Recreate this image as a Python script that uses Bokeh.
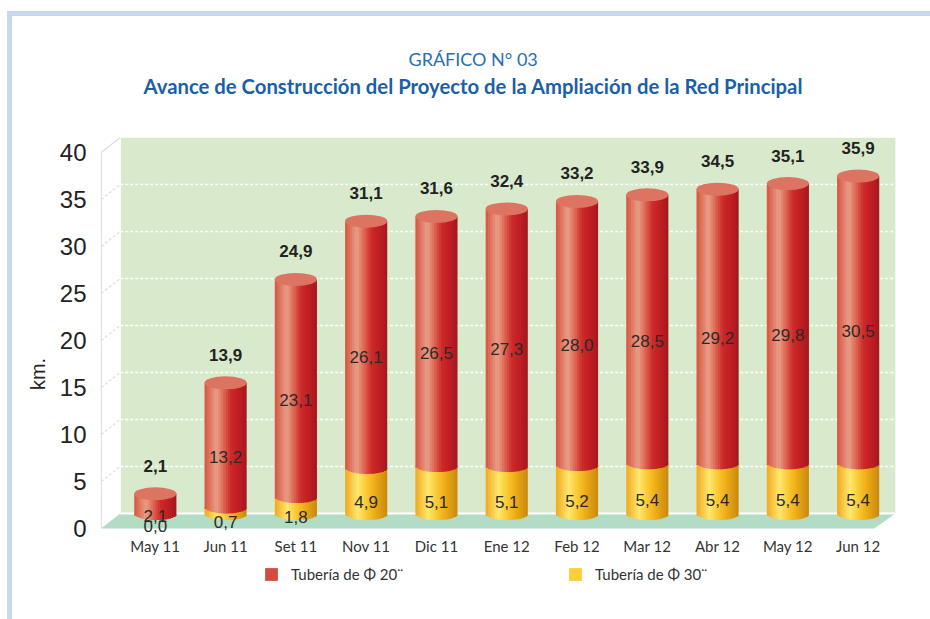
import math
from bokeh.plotting import figure
from bokeh.models import (Range1d, LinearAxis, FixedTicker, Legend, LegendItem,
                          ColumnDataSource, Title)
from bokeh.embed import file_html
from bokeh.resources import INLINE

# ---------------- data ----------------
categories = ["May 11", "Jun 11", "Set 11", "Nov 11", "Dic 11", "Ene 12",
              "Feb 12", "Mar 12", "Abr 12", "May 12", "Jun 12"]
tuberia_20 = [2.1, 13.2, 23.1, 26.1, 26.5, 27.3, 28.0, 28.5, 29.2, 29.8, 30.5]
tuberia_30 = [0.0, 0.7, 1.8, 4.9, 5.1, 5.1, 5.2, 5.4, 5.4, 5.4, 5.4]
totales = [2.1, 13.9, 24.9, 31.1, 31.6, 32.4, 33.2, 33.9, 34.5, 35.1, 35.9]
y_ticks = [0, 5, 10, 15, 20, 25, 30, 35, 40]
series_names = ["Tubería de Φ 20¨", "Tubería de Φ 30¨"]

# ---------------- geometry / style ----------------
FRAME_H = 473
XS, XE = -0.78, 10.56
YE = 40
YS = YE - FRAME_H / 9.4
DY = 1.6            # front-plane shift (data units)
WL, WR = -0.5, 10.53
FL, FR = -0.77, 10.23
BAR_W = 0.6
NSTR = 18
EH = 13             # ellipse height px
PXU = FRAME_H / (YE - YS)

RED_STOPS = [(0, (214, 84, 64)), (0.28, (233, 158, 136)), (0.45, (222, 102, 82)),
             (0.62, (205, 42, 42)), (0.85, (188, 28, 34)), (1, (160, 24, 30))]
YEL_STOPS = [(0, (240, 168, 30)), (0.3, (255, 232, 112)), (0.5, (250, 202, 52)),
             (0.72, (236, 170, 22)), (1, (200, 136, 14))]


def grad(stops, u):
    for (a, ca), (b, cb) in zip(stops, stops[1:]):
        if a <= u <= b:
            t = (u - a) / (b - a)
            c = [round(ca[k] + (cb[k] - ca[k]) * t) for k in range(3)]
            return "#%02x%02x%02x" % tuple(c)
    return "#%02x%02x%02x" % stops[-1][1]


def fmt(v):
    return f"{v:.1f}".replace(".", ",")


xs = list(range(len(categories)))

p = figure(width=930, height=619, frame_width=797, frame_height=FRAME_H,
           x_range=Range1d(XS, XE), y_range=Range1d(YS, YE),
           output_backend="svg", toolbar_location=None,
           min_border_left=100, min_border_right=33, min_border_top=137,
           min_border_bottom=9, x_axis_location=None, y_axis_location=None,
           title="GRÁFICO N° 03")
p.title.align = "left"
p.title.offset = 308
p.title.text_font = "Lato"
p.title.text_font_size = "18px"
p.title.text_font_style = "normal"
p.title.text_color = "#2a6db5"
p.title.standoff = 2

# spacer (blank axis) between frame and the bold title line
spacer = LinearAxis(ticker=FixedTicker(ticks=[0]), major_label_overrides={0: " "},
                    major_tick_out=0, major_tick_in=0, major_label_standoff=18,
                    major_label_text_font="Lato", major_label_text_font_size="15px",
                    axis_line_color=None, major_tick_line_color=None,
                    minor_tick_line_color=None)
p.add_layout(spacer, "above")
p.add_layout(Title(text="Avance de Construcción del Proyecto de la Ampliación de la Red Principal",
                   align="left", offset=43, text_font="Lato", text_font_size="20.3px",
                   text_font_style="bold", text_color="#1a5fa8", standoff=2), "above")

p.outline_line_color = None
p.background_fill_color = "white"
p.border_fill_color = None
p.xgrid.visible = False
p.ygrid.visible = False
band = "#c6d9f1"
p.styles = {"background": (f"linear-gradient({band},{band}) 7px 11px / 923px 5px no-repeat, "
                           f"linear-gradient({band},{band}) 7px 11px / 5px 608px no-repeat, #ffffff")}

# back wall and floor
p.quad(left=[WL], right=[WR], bottom=[0], top=[YE], fill_color="#d9eacc", line_color=None)
p.patch([FL, FR, WR, WL], [-DY, -DY, 0, 0], fill_color="#b2dcc3", line_color=None)
p.segment(x0=[WL], y0=[0], x1=[WR], y1=[0], line_color="white", line_width=2)
p.segment(x0=[WL], y0=[0], x1=[WL], y1=[YE], line_color="white", line_width=1.5)
p.segment(x0=[FL], y0=[-DY], x1=[FL], y1=[YE - DY], line_color="#dcdcdc", line_width=1.2)

grid_y = [t for t in y_ticks if 0 < t < 40]
p.segment(x0=[WL] * len(grid_y), y0=grid_y, x1=[WR] * len(grid_y), y1=grid_y,
          line_color="white", line_width=1.6, line_dash="3 2")
p.segment(x0=[FL] * len(grid_y), y0=[t - DY for t in grid_y], x1=[WL] * len(grid_y),
          y1=grid_y, line_color="#dedede", line_width=1.2, line_dash="3 2")
p.segment(x0=[FL], y0=[YE - DY], x1=[WL], y1=[YE], line_color="#dcdcdc", line_width=1.2)

# cylinders built from vertical stripes
def stripes(bottoms, tops, stops):
    d = dict(l=[], r=[], b=[], t=[], c=[])
    sw = BAR_W / NSTR
    for i, (b0, t0) in enumerate(zip(bottoms, tops)):
        left = xs[i] - BAR_W / 2
        for j in range(NSTR):
            u = (j + 0.5) / NSTR
            sag = (EH / 2) * math.sqrt(max(0.0, 1 - (2 * u - 1) ** 2)) / PXU
            d["l"].append(left + j * sw)
            d["r"].append(left + (j + 1) * sw + (0.6 * sw if j < NSTR - 1 else 0))
            d["b"].append(b0 - sag)
            d["t"].append(t0)
            d["c"].append(grad(stops, u))
    return ColumnDataSource(d)

ysrc = stripes([0] * len(xs), tuberia_30, YEL_STOPS)
rsrc = stripes(tuberia_30, totales, RED_STOPS)
yel_r = p.quad(left="l", right="r", bottom="b", top="t", fill_color="c", line_color=None, source=ysrc)
red_r = p.quad(left="l", right="r", bottom="b", top="t", fill_color="c", line_color=None, source=rsrc)
p.ellipse(x=xs, y=totales, width=BAR_W, height=EH, height_units="screen",
          fill_color="#dd7461", line_color=None)

# value labels
mid20 = [a + b / 2 for a, b in zip(tuberia_30, tuberia_20)]
mid30 = [a / 2 for a in tuberia_30]
p.text(x=xs, y=mid20, text=[fmt(v) for v in tuberia_20], text_align="center",
       text_baseline="middle", y_offset=12, text_font={"value": "Liberation Sans"},
       text_font_size="17px", text_color="#2a2a2a")
p.text(x=xs, y=mid30, text=[fmt(v) for v in tuberia_30], text_align="center",
       text_baseline="middle", y_offset=12, text_font={"value": "Liberation Sans"},
       text_font_size="17px", text_color="#2a2a2a")
p.text(x=xs, y=totales, text=[fmt(v) for v in totales], text_align="center",
       text_baseline="middle", y_offset=-28, text_font={"value": "Liberation Sans"},
       text_font_size="17px", text_font_style="bold", text_color="#222222")

# category labels under the floor (placed through the x scale)
p.text(x=xs, y=[-DY] * len(xs), text=categories, text_align="center",
       text_baseline="middle", y_offset=17, text_font={"value": "Lato"},
       text_font_size="15px", text_color="#333333")

# y axis on the front plane
p.extra_y_ranges = {"front": Range1d(YS + DY, YE + DY)}
yax = LinearAxis(y_range_name="front", ticker=FixedTicker(ticks=y_ticks), bounds=(0, 40),
                 axis_label="km.", axis_label_standoff=8,
                 axis_label_text_font="Liberation Sans", axis_label_text_font_size="20px",
                 axis_label_text_font_style="normal", axis_label_text_color="#222222",
                 major_label_standoff=8, major_label_text_font="Liberation Sans",
                 major_label_text_font_size="24px", major_label_text_color="#222222")
yax.axis_line_color = None
yax.major_tick_line_color = None
yax.minor_tick_line_color = None
p.add_layout(yax, "left")

legend = Legend(items=[LegendItem(label=series_names[0], renderers=[red_r], index=int(NSTR * 0.55)),
                       LegendItem(label=series_names[1], renderers=[yel_r], index=int(NSTR * 0.45))],
                orientation="horizontal", location=(163, 27), padding=0, margin=0,
                spacing=137, glyph_width=16, glyph_height=16, label_standoff=12,
                label_width=139, label_height=16, background_fill_alpha=0, border_line_alpha=0,
                label_text_font="Lato", label_text_font_size="15px",
                label_text_color="#333333")
p.add_layout(legend)

open("out.html", "w").write(file_html(p, INLINE))
